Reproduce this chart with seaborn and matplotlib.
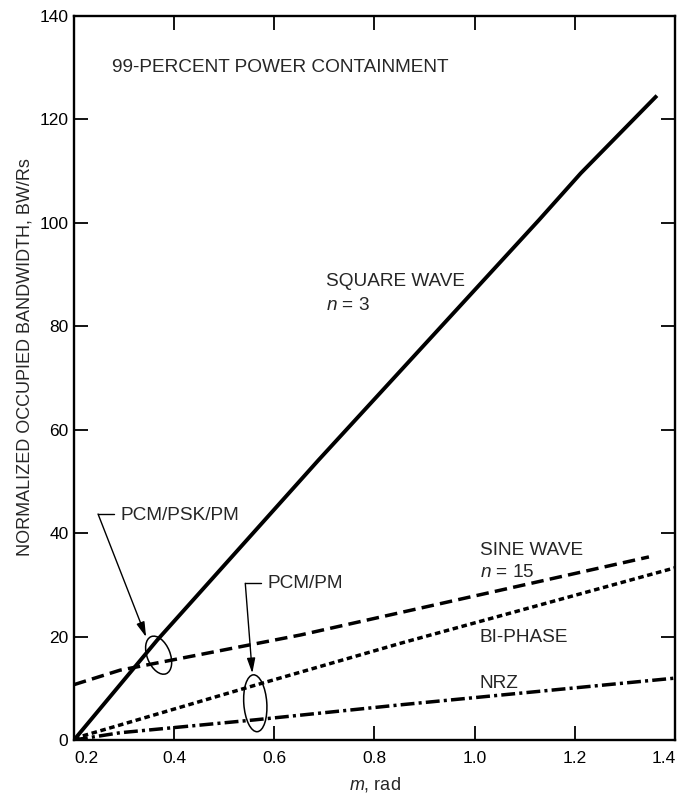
import numpy as np
import pandas as pd
import matplotlib
matplotlib.use("Agg")
import matplotlib.pyplot as plt
import matplotlib.transforms as mtransforms
from matplotlib.patches import Ellipse
import seaborn as sns

# ---- data ----
square_m = [0.2, 0.366, 0.688, 1.128, 1.212, 1.364]
square_bw = [0.0, 19.3, 54.1, 100.5, 109.6, 124.6]

sine_m = [0.2, 0.292, 0.652, 1.348]
sine_bw = [10.7, 13.5, 20.3, 35.4]

biphase_m = [0.2, 0.292, 0.562, 0.852, 1.404]
biphase_bw = [0.3, 2.9, 10.6, 18.7, 33.4]

nrz_m = [0.2, 0.292, 0.562, 0.652, 0.852, 1.404]
nrz_bw = [0.0, 1.4, 3.9, 4.8, 6.8, 12.0]

x_ticks = [0.2, 0.4, 0.6, 0.8, 1.0, 1.2, 1.4]
x_tick_labels = ["0.2", "0.4", "0.6", "0.8", "1.0", "1.2", "1.4"]
y_ticks = [0, 20, 40, 60, 80, 100, 120, 140]

sns.set_style("ticks")
plt.rcParams["font.family"] = ["Liberation Sans", "DejaVu Sans"]
plt.rcParams["lines.scale_dashes"] = False
plt.rcParams["mathtext.fontset"] = "custom"
plt.rcParams["mathtext.it"] = "Liberation Sans:italic"
plt.rcParams["mathtext.rm"] = "Liberation Sans"

fig = plt.figure(figsize=(6.77, 7.95), dpi=100)
ax = fig.add_axes([0.1093, 0.0692, 0.997 - 0.1093, 0.9799 - 0.0692])

sq = pd.DataFrame({"m": square_m, "bw": square_bw})
sn = pd.DataFrame({"m": sine_m, "bw": sine_bw})
bp = pd.DataFrame({"m": biphase_m, "bw": biphase_bw})
nz = pd.DataFrame({"m": nrz_m, "bw": nrz_bw})

sns.lineplot(data=sq, x="m", y="bw", ax=ax, color="black", lw=2.8,
             linestyle="-", solid_capstyle="butt")
sns.lineplot(data=sn, x="m", y="bw", ax=ax, color="black", lw=2.5,
             linestyle=(0, (9, 4.5)), dash_capstyle="butt")
sns.lineplot(data=bp, x="m", y="bw", ax=ax, color="black", lw=2.5,
             linestyle=(0, (4, 2.6)), dash_capstyle="butt")
sns.lineplot(data=nz, x="m", y="bw", ax=ax, color="black", lw=2.5,
             linestyle=(0, (10, 3, 2.2, 3)), dash_capstyle="butt")

ax.set_xlim(0.2, 1.4)
ax.set_ylim(0, 140)
ax.set_xticks(x_ticks)
ax.set_xticklabels(x_tick_labels)
ax.set_yticks(y_ticks)
ax.tick_params(direction="in", length=10, width=1.3, top=True, right=True,
               labelsize=12.5, colors="black")
ax.tick_params(axis="x", pad=8)
ax.tick_params(axis="y", pad=4)
for s in ax.spines.values():
    s.set_linewidth(1.7)
    s.set_color("black")

# nudge the first and last x tick labels inward, as in the reference
xl = ax.get_xticklabels()
xl[0].set_transform(xl[0].get_transform() +
                    mtransforms.ScaledTranslation(0.12, 0, fig.dpi_scale_trans))
xl[-1].set_transform(xl[-1].get_transform() +
                     mtransforms.ScaledTranslation(-0.11, 0, fig.dpi_scale_trans))

ax.set_xlabel("$m$, rad", fontsize=13)
ax.xaxis.set_label_coords(0.5, -0.061)
ax.xaxis.label.set_va("center")
ax.set_ylabel("NORMALIZED OCCUPIED BANDWIDTH, BW/Rs", fontsize=13)
ax.yaxis.set_label_coords(-0.082, 0.529)
ax.yaxis.label.set_va("center")

fs = 13.7
ax.text(0.276, 130, "99-PERCENT POWER CONTAINMENT", fontsize=fs, va="center", ha="left")
ax.text(0.704, 88.6, "SQUARE WAVE", fontsize=fs, va="center", ha="left")
ax.text(0.704, 84.1, "$n$ = 3", fontsize=fs, va="center", ha="left")
ax.text(1.01, 36.7, "SINE WAVE", fontsize=fs, va="center", ha="left")
ax.text(1.01, 32.3, "$n$ = 15", fontsize=fs, va="center", ha="left")
ax.text(1.01, 19.9, "BI-PHASE", fontsize=fs, va="center", ha="left")
ax.text(1.01, 11.0, "NRZ", fontsize=fs, va="center", ha="left")
ax.text(0.292, 43.5, "PCM/PSK/PM", fontsize=fs, va="center", ha="left")
ax.text(0.586, 30.3, "PCM/PM", fontsize=fs, va="center", ha="left")

# leader lines with arrows
ax.plot([0.28, 0.248], [43.7, 43.7], color="black", lw=1.0)
ax.annotate("", xy=(0.344, 19.9), xytext=(0.248, 43.7),
            arrowprops=dict(arrowstyle="-|>,head_length=0.9,head_width=0.25",
                            color="black", lw=1.0, shrinkA=0, shrinkB=0))
ax.plot([0.574, 0.542], [30.3, 30.3], color="black", lw=1.0)
ax.annotate("", xy=(0.556, 12.9), xytext=(0.542, 30.3),
            arrowprops=dict(arrowstyle="-|>,head_length=0.9,head_width=0.25",
                            color="black", lw=1.0, shrinkA=0, shrinkB=0))

# ellipses drawn in inches around data anchor points
def ell(x, y, w, h, ang):
    tr = fig.dpi_scale_trans + mtransforms.ScaledTranslation(x, y, ax.transData)
    e = Ellipse((0, 0), w, h, angle=ang, transform=tr, fill=False,
                edgecolor="black", lw=1.1)
    ax.add_patch(e)

ell(0.369, 16.4, 0.23, 0.40, 22)
ell(0.562, 7.1, 0.23, 0.57, 4)

fig.savefig("out.png", dpi=100)
